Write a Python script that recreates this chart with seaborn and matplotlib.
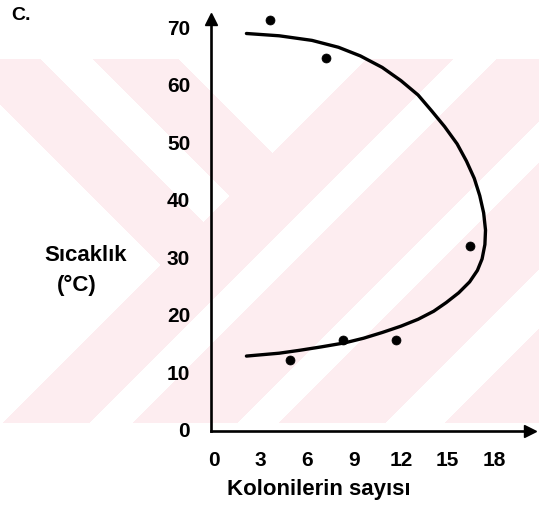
import numpy as np
import matplotlib
matplotlib.use("Agg")
import matplotlib.pyplot as plt
import seaborn as sns

# ---- data ----
point_colonies = [3.6, 7.2, 16.4, 11.7, 8.3, 4.9]
point_temps = [71.0, 64.4, 31.8, 15.4, 15.4, 11.9]

curve_colonies = [2.1, 4.2, 6.3, 8.0, 9.4, 10.8, 12.0, 13.1, 13.95, 14.8,
                  15.6, 16.2, 16.7, 17.05, 17.3, 17.42, 17.38,
                  17.2, 16.9, 16.4, 15.7, 14.9, 14.1, 13.1, 12.0, 10.8,
                  9.6, 8.4, 6.9, 5.5, 4.2, 2.1]
curve_temps = [68.7, 68.3, 67.5, 66.3, 64.8, 62.8, 60.5, 58.0, 55.3, 52.5,
               49.5, 46.5, 43.5, 40.5, 37.5, 34.5, 32.0,
               29.5, 27.5, 25.5, 23.6, 21.9, 20.4, 19.0, 17.8, 16.7,
               15.7, 14.9, 14.2, 13.6, 13.1, 12.6]

x_ticks = [0, 3, 6, 9, 12, 15, 18]
y_ticks = [0, 10, 20, 30, 40, 50, 60, 70]

panel_label = "C."
y_title = ["Sıcaklık", "(°C)"]
x_title = "Kolonilerin sayısı"

sns.set_theme(style="white")
plt.rcParams['font.family'] = ['Liberation Sans', 'DejaVu Sans']
plt.rcParams['text.color'] = 'black'
plt.rcParams['axes.labelcolor'] = 'black'
plt.rcParams['xtick.color'] = 'black'
plt.rcParams['ytick.color'] = 'black'

W, H = 539, 506
fig = plt.figure(figsize=(W / 100, H / 100), dpi=100)
fig.patch.set_facecolor("white")

# ---- background watermark (decorative) ----
Y, X = np.mgrid[0:H, 0:W]
c = X + Y
d = X - Y
band = (Y >= 60) & (Y <= 423)
upper = c < 426
white_upper = (d < -105) | ((d > -20) & (d < 33)) | (d > 118)
white_lower = ((c > 512) & (c < 556)) | ((c > 660) & (c < 702)) | ((c > 808) & (c < 868))
white = np.where(upper, white_upper, white_lower)
pink_mask = band & ~white
img = np.ones((H, W, 3))
img[pink_mask] = np.array([253, 237, 240]) / 255.0
bg = fig.add_axes([0, 0, 1, 1], zorder=0)
bg.imshow(img, extent=(0, W, H, 0), aspect="auto", interpolation="nearest")
bg.set_xlim(0, W)
bg.set_ylim(H, 0)
bg.axis("off")

# ---- main axes ----
left, right = 211 / W, 530 / W
bottom, top = (H - 432) / H, (H - 20) / H
ax = fig.add_axes([left, bottom, right - left, top - bottom], zorder=1)
ax.patch.set_alpha(0)

sns.lineplot(x=curve_colonies, y=curve_temps, sort=False, estimator=None,
             color="black", linewidth=2.4, ax=ax,
             solid_joinstyle="round", solid_capstyle="round")
sns.scatterplot(x=point_colonies, y=point_temps, color="black", s=42,
                edgecolor="black", linewidth=0.5, ax=ax, clip_on=False, zorder=3)

ax.set_xlim(-0.17, 20.27)
ax.set_ylim(-0.43, 71.22)
ax.set_xticks(x_ticks)
ax.set_yticks(y_ticks)
ax.set_xticklabels([str(v) for v in x_ticks], fontsize=15, fontweight="bold")
ax.set_yticklabels([str(v) for v in y_ticks], fontsize=15, fontweight="bold")
ax.tick_params(axis="x", length=0, pad=14)
ax.tick_params(axis="y", length=0, pad=15)
ax.set_xlabel("")
ax.set_ylabel("")

for s in ["top", "right"]:
    ax.spines[s].set_visible(False)
for s in ["left", "bottom"]:
    ax.spines[s].set_visible(True)
    ax.spines[s].set_color("black")
    ax.spines[s].set_linewidth(1.9)

# arrow heads
ax.plot(1, 0, marker=">", color="black", markersize=8.5,
        transform=ax.transAxes, clip_on=False)
ax.plot(0, 1, marker="^", color="black", markersize=8.5,
        transform=ax.transAxes, clip_on=False)

# texts
fig.text(21 / W, 1 - 15 / H, panel_label, ha="center", va="center",
         fontsize=14, fontweight="bold", color="black")
fig.text(86 / W, 1 - 256 / H, y_title[0], ha="center", va="center",
         fontsize=16, fontweight="bold", color="black")
fig.text(77 / W, 1 - 285 / H, y_title[1], ha="center", va="center",
         fontsize=16, fontweight="bold", color="black")
fig.text(319 / W, 1 - 490 / H, x_title, ha="center", va="center",
         fontsize=16, fontweight="bold", color="black")

fig.savefig("out.png", dpi=100)
